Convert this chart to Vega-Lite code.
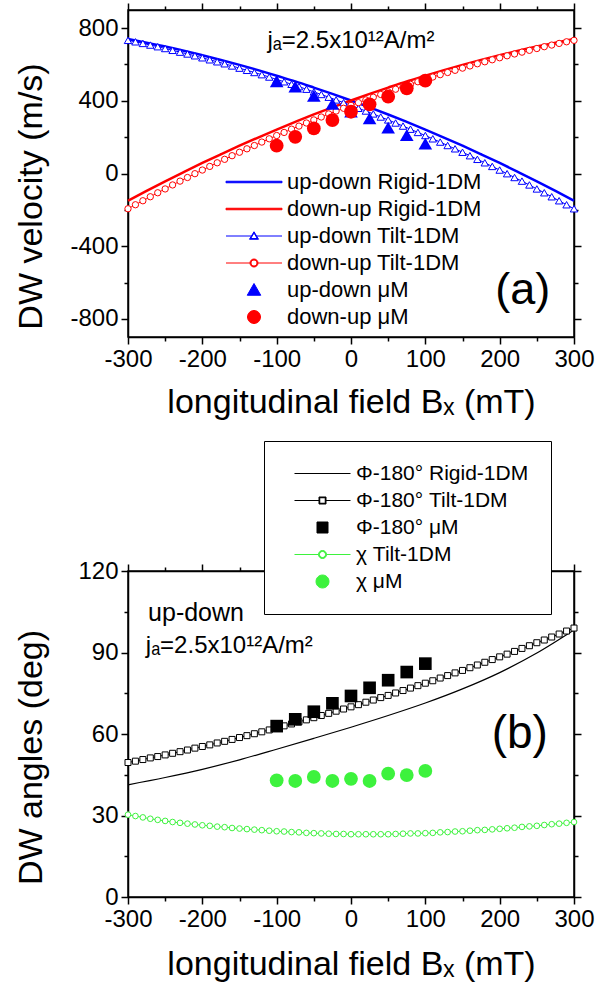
{
  "$schema": "https://vega.github.io/schema/vega-lite/v6.json",
  "background": "white",
  "padding": {"left": 13, "top": 1, "right": 5, "bottom": 5},
  "spacing": 19,
  "config": {
    "font": "Liberation Sans",
    "view": {"stroke": "black", "strokeWidth": 1.5},
    "axis": {
      "labelFont": "Liberation Sans", "labelFontSize": 24, "labelColor": "black",
      "titleFont": "Liberation Sans", "titleFontSize": 34, "titleFontWeight": "normal", "titleColor": "black",
      "domainColor": "black", "domainWidth": 1.5, "tickColor": "black", "tickWidth": 1.5,
      "grid": false, "labelFlush": false, "labelOverlap": false
    }
  },
  "resolve": {"scale": {"color": "independent"}, "legend": {"color": "independent"}},
  "datasets": {
    "velocity": [
      {"B": -300, "v": 740, "series": "up-down Rigid-1DM"}, {"B": -275, "v": 720, "series": "up-down Rigid-1DM"},
      {"B": -250, "v": 699, "series": "up-down Rigid-1DM"}, {"B": -225, "v": 676, "series": "up-down Rigid-1DM"},
      {"B": -200, "v": 651, "series": "up-down Rigid-1DM"}, {"B": -175, "v": 625, "series": "up-down Rigid-1DM"},
      {"B": -150, "v": 598, "series": "up-down Rigid-1DM"}, {"B": -125, "v": 569, "series": "up-down Rigid-1DM"},
      {"B": -100, "v": 538, "series": "up-down Rigid-1DM"}, {"B": -75, "v": 507, "series": "up-down Rigid-1DM"},
      {"B": -50, "v": 473, "series": "up-down Rigid-1DM"}, {"B": -25, "v": 438, "series": "up-down Rigid-1DM"},
      {"B": 0, "v": 402, "series": "up-down Rigid-1DM"}, {"B": 25, "v": 364, "series": "up-down Rigid-1DM"},
      {"B": 50, "v": 325, "series": "up-down Rigid-1DM"}, {"B": 75, "v": 284, "series": "up-down Rigid-1DM"},
      {"B": 100, "v": 242, "series": "up-down Rigid-1DM"}, {"B": 125, "v": 198, "series": "up-down Rigid-1DM"},
      {"B": 150, "v": 153, "series": "up-down Rigid-1DM"}, {"B": 175, "v": 106, "series": "up-down Rigid-1DM"},
      {"B": 200, "v": 58, "series": "up-down Rigid-1DM"}, {"B": 225, "v": 8, "series": "up-down Rigid-1DM"},
      {"B": 250, "v": -43, "series": "up-down Rigid-1DM"}, {"B": 275, "v": -96, "series": "up-down Rigid-1DM"},
      {"B": 300, "v": -150, "series": "up-down Rigid-1DM"},

      {"B": -300, "v": -150, "series": "down-up Rigid-1DM"}, {"B": -275, "v": -96, "series": "down-up Rigid-1DM"},
      {"B": -250, "v": -43, "series": "down-up Rigid-1DM"}, {"B": -225, "v": 8, "series": "down-up Rigid-1DM"},
      {"B": -200, "v": 58, "series": "down-up Rigid-1DM"}, {"B": -175, "v": 106, "series": "down-up Rigid-1DM"},
      {"B": -150, "v": 153, "series": "down-up Rigid-1DM"}, {"B": -125, "v": 198, "series": "down-up Rigid-1DM"},
      {"B": -100, "v": 242, "series": "down-up Rigid-1DM"}, {"B": -75, "v": 284, "series": "down-up Rigid-1DM"},
      {"B": -50, "v": 325, "series": "down-up Rigid-1DM"}, {"B": -25, "v": 364, "series": "down-up Rigid-1DM"},
      {"B": 0, "v": 402, "series": "down-up Rigid-1DM"}, {"B": 25, "v": 438, "series": "down-up Rigid-1DM"},
      {"B": 50, "v": 473, "series": "down-up Rigid-1DM"}, {"B": 75, "v": 507, "series": "down-up Rigid-1DM"},
      {"B": 100, "v": 538, "series": "down-up Rigid-1DM"}, {"B": 125, "v": 569, "series": "down-up Rigid-1DM"},
      {"B": 150, "v": 598, "series": "down-up Rigid-1DM"}, {"B": 175, "v": 625, "series": "down-up Rigid-1DM"},
      {"B": 200, "v": 651, "series": "down-up Rigid-1DM"}, {"B": 225, "v": 676, "series": "down-up Rigid-1DM"},
      {"B": 250, "v": 699, "series": "down-up Rigid-1DM"}, {"B": 275, "v": 720, "series": "down-up Rigid-1DM"},
      {"B": 300, "v": 740, "series": "down-up Rigid-1DM"},

      {"B": -300, "v": 733, "series": "up-down Tilt-1DM"}, {"B": -290, "v": 725, "series": "up-down Tilt-1DM"},
      {"B": -280, "v": 716, "series": "up-down Tilt-1DM"}, {"B": -270, "v": 707, "series": "up-down Tilt-1DM"},
      {"B": -260, "v": 698, "series": "up-down Tilt-1DM"}, {"B": -250, "v": 688, "series": "up-down Tilt-1DM"},
      {"B": -240, "v": 678, "series": "up-down Tilt-1DM"}, {"B": -230, "v": 668, "series": "up-down Tilt-1DM"},
      {"B": -220, "v": 658, "series": "up-down Tilt-1DM"}, {"B": -210, "v": 648, "series": "up-down Tilt-1DM"},
      {"B": -200, "v": 637, "series": "up-down Tilt-1DM"}, {"B": -190, "v": 626, "series": "up-down Tilt-1DM"},
      {"B": -180, "v": 615, "series": "up-down Tilt-1DM"}, {"B": -170, "v": 604, "series": "up-down Tilt-1DM"},
      {"B": -160, "v": 592, "series": "up-down Tilt-1DM"}, {"B": -150, "v": 580, "series": "up-down Tilt-1DM"},
      {"B": -140, "v": 568, "series": "up-down Tilt-1DM"}, {"B": -130, "v": 556, "series": "up-down Tilt-1DM"},
      {"B": -120, "v": 544, "series": "up-down Tilt-1DM"}, {"B": -110, "v": 531, "series": "up-down Tilt-1DM"},
      {"B": -100, "v": 518, "series": "up-down Tilt-1DM"}, {"B": -90, "v": 505, "series": "up-down Tilt-1DM"},
      {"B": -80, "v": 491, "series": "up-down Tilt-1DM"}, {"B": -70, "v": 478, "series": "up-down Tilt-1DM"},
      {"B": -60, "v": 464, "series": "up-down Tilt-1DM"}, {"B": -50, "v": 449, "series": "up-down Tilt-1DM"},
      {"B": -40, "v": 435, "series": "up-down Tilt-1DM"}, {"B": -30, "v": 420, "series": "up-down Tilt-1DM"},
      {"B": -20, "v": 405, "series": "up-down Tilt-1DM"}, {"B": -10, "v": 390, "series": "up-down Tilt-1DM"},
      {"B": 0, "v": 375, "series": "up-down Tilt-1DM"}, {"B": 10, "v": 359, "series": "up-down Tilt-1DM"},
      {"B": 20, "v": 344, "series": "up-down Tilt-1DM"}, {"B": 30, "v": 328, "series": "up-down Tilt-1DM"},
      {"B": 40, "v": 311, "series": "up-down Tilt-1DM"}, {"B": 50, "v": 295, "series": "up-down Tilt-1DM"},
      {"B": 60, "v": 278, "series": "up-down Tilt-1DM"}, {"B": 70, "v": 261, "series": "up-down Tilt-1DM"},
      {"B": 80, "v": 244, "series": "up-down Tilt-1DM"}, {"B": 90, "v": 226, "series": "up-down Tilt-1DM"},
      {"B": 100, "v": 209, "series": "up-down Tilt-1DM"}, {"B": 110, "v": 191, "series": "up-down Tilt-1DM"},
      {"B": 120, "v": 173, "series": "up-down Tilt-1DM"}, {"B": 130, "v": 154, "series": "up-down Tilt-1DM"},
      {"B": 140, "v": 136, "series": "up-down Tilt-1DM"}, {"B": 150, "v": 117, "series": "up-down Tilt-1DM"},
      {"B": 160, "v": 98, "series": "up-down Tilt-1DM"}, {"B": 170, "v": 78, "series": "up-down Tilt-1DM"},
      {"B": 180, "v": 59, "series": "up-down Tilt-1DM"}, {"B": 190, "v": 39, "series": "up-down Tilt-1DM"},
      {"B": 200, "v": 19, "series": "up-down Tilt-1DM"}, {"B": 210, "v": -1, "series": "up-down Tilt-1DM"},
      {"B": 220, "v": -22, "series": "up-down Tilt-1DM"}, {"B": 230, "v": -42, "series": "up-down Tilt-1DM"},
      {"B": 240, "v": -63, "series": "up-down Tilt-1DM"}, {"B": 250, "v": -85, "series": "up-down Tilt-1DM"},
      {"B": 260, "v": -106, "series": "up-down Tilt-1DM"}, {"B": 270, "v": -128, "series": "up-down Tilt-1DM"},
      {"B": 280, "v": -150, "series": "up-down Tilt-1DM"}, {"B": 290, "v": -172, "series": "up-down Tilt-1DM"},
      {"B": 300, "v": -194, "series": "up-down Tilt-1DM"},

      {"B": -300, "v": -194, "series": "down-up Tilt-1DM"}, {"B": -290, "v": -172, "series": "down-up Tilt-1DM"},
      {"B": -280, "v": -150, "series": "down-up Tilt-1DM"}, {"B": -270, "v": -128, "series": "down-up Tilt-1DM"},
      {"B": -260, "v": -106, "series": "down-up Tilt-1DM"}, {"B": -250, "v": -85, "series": "down-up Tilt-1DM"},
      {"B": -240, "v": -63, "series": "down-up Tilt-1DM"}, {"B": -230, "v": -42, "series": "down-up Tilt-1DM"},
      {"B": -220, "v": -22, "series": "down-up Tilt-1DM"}, {"B": -210, "v": -1, "series": "down-up Tilt-1DM"},
      {"B": -200, "v": 19, "series": "down-up Tilt-1DM"}, {"B": -190, "v": 39, "series": "down-up Tilt-1DM"},
      {"B": -180, "v": 59, "series": "down-up Tilt-1DM"}, {"B": -170, "v": 78, "series": "down-up Tilt-1DM"},
      {"B": -160, "v": 98, "series": "down-up Tilt-1DM"}, {"B": -150, "v": 117, "series": "down-up Tilt-1DM"},
      {"B": -140, "v": 136, "series": "down-up Tilt-1DM"}, {"B": -130, "v": 154, "series": "down-up Tilt-1DM"},
      {"B": -120, "v": 173, "series": "down-up Tilt-1DM"}, {"B": -110, "v": 191, "series": "down-up Tilt-1DM"},
      {"B": -100, "v": 209, "series": "down-up Tilt-1DM"}, {"B": -90, "v": 226, "series": "down-up Tilt-1DM"},
      {"B": -80, "v": 244, "series": "down-up Tilt-1DM"}, {"B": -70, "v": 261, "series": "down-up Tilt-1DM"},
      {"B": -60, "v": 278, "series": "down-up Tilt-1DM"}, {"B": -50, "v": 295, "series": "down-up Tilt-1DM"},
      {"B": -40, "v": 311, "series": "down-up Tilt-1DM"}, {"B": -30, "v": 328, "series": "down-up Tilt-1DM"},
      {"B": -20, "v": 344, "series": "down-up Tilt-1DM"}, {"B": -10, "v": 359, "series": "down-up Tilt-1DM"},
      {"B": 0, "v": 375, "series": "down-up Tilt-1DM"}, {"B": 10, "v": 390, "series": "down-up Tilt-1DM"},
      {"B": 20, "v": 405, "series": "down-up Tilt-1DM"}, {"B": 30, "v": 420, "series": "down-up Tilt-1DM"},
      {"B": 40, "v": 435, "series": "down-up Tilt-1DM"}, {"B": 50, "v": 449, "series": "down-up Tilt-1DM"},
      {"B": 60, "v": 464, "series": "down-up Tilt-1DM"}, {"B": 70, "v": 478, "series": "down-up Tilt-1DM"},
      {"B": 80, "v": 491, "series": "down-up Tilt-1DM"}, {"B": 90, "v": 505, "series": "down-up Tilt-1DM"},
      {"B": 100, "v": 518, "series": "down-up Tilt-1DM"}, {"B": 110, "v": 531, "series": "down-up Tilt-1DM"},
      {"B": 120, "v": 544, "series": "down-up Tilt-1DM"}, {"B": 130, "v": 556, "series": "down-up Tilt-1DM"},
      {"B": 140, "v": 568, "series": "down-up Tilt-1DM"}, {"B": 150, "v": 580, "series": "down-up Tilt-1DM"},
      {"B": 160, "v": 592, "series": "down-up Tilt-1DM"}, {"B": 170, "v": 604, "series": "down-up Tilt-1DM"},
      {"B": 180, "v": 615, "series": "down-up Tilt-1DM"}, {"B": 190, "v": 626, "series": "down-up Tilt-1DM"},
      {"B": 200, "v": 637, "series": "down-up Tilt-1DM"}, {"B": 210, "v": 648, "series": "down-up Tilt-1DM"},
      {"B": 220, "v": 658, "series": "down-up Tilt-1DM"}, {"B": 230, "v": 668, "series": "down-up Tilt-1DM"},
      {"B": 240, "v": 678, "series": "down-up Tilt-1DM"}, {"B": 250, "v": 688, "series": "down-up Tilt-1DM"},
      {"B": 260, "v": 698, "series": "down-up Tilt-1DM"}, {"B": 270, "v": 707, "series": "down-up Tilt-1DM"},
      {"B": 280, "v": 716, "series": "down-up Tilt-1DM"}, {"B": 290, "v": 725, "series": "down-up Tilt-1DM"},
      {"B": 300, "v": 733, "series": "down-up Tilt-1DM"},

      {"B": -100, "v": 507, "series": "up-down μM"}, {"B": -75, "v": 478, "series": "up-down μM"},
      {"B": -50, "v": 427, "series": "up-down μM"}, {"B": -25, "v": 383, "series": "up-down μM"},
      {"B": 0, "v": 340, "series": "up-down μM"}, {"B": 25, "v": 303, "series": "up-down μM"},
      {"B": 50, "v": 252, "series": "up-down μM"}, {"B": 75, "v": 211, "series": "up-down μM"},
      {"B": 100, "v": 165, "series": "up-down μM"},

      {"B": -100, "v": 153, "series": "down-up μM"}, {"B": -75, "v": 202, "series": "down-up μM"},
      {"B": -50, "v": 248, "series": "down-up μM"}, {"B": -25, "v": 294, "series": "down-up μM"},
      {"B": 0, "v": 340, "series": "down-up μM"}, {"B": 25, "v": 381, "series": "down-up μM"},
      {"B": 50, "v": 423, "series": "down-up μM"}, {"B": 75, "v": 469, "series": "down-up μM"},
      {"B": 100, "v": 511, "series": "down-up μM"}
    ],
    "angles": [
      {"B": -300, "deg": 41.3, "series": "Φ-180° Rigid-1DM"}, {"B": -250, "deg": 44.0, "series": "Φ-180° Rigid-1DM"},
      {"B": -200, "deg": 47.0, "series": "Φ-180° Rigid-1DM"}, {"B": -150, "deg": 50.5, "series": "Φ-180° Rigid-1DM"},
      {"B": -100, "deg": 54.4, "series": "Φ-180° Rigid-1DM"}, {"B": -50, "deg": 58.4, "series": "Φ-180° Rigid-1DM"},
      {"B": 0, "deg": 62.5, "series": "Φ-180° Rigid-1DM"}, {"B": 50, "deg": 66.8, "series": "Φ-180° Rigid-1DM"},
      {"B": 100, "deg": 71.4, "series": "Φ-180° Rigid-1DM"}, {"B": 150, "deg": 76.6, "series": "Φ-180° Rigid-1DM"},
      {"B": 200, "deg": 82.6, "series": "Φ-180° Rigid-1DM"}, {"B": 250, "deg": 89.8, "series": "Φ-180° Rigid-1DM"},
      {"B": 300, "deg": 98.3, "series": "Φ-180° Rigid-1DM"},

      {"B": -300, "deg": 49.5, "series": "Φ-180° Tilt-1DM"}, {"B": -290, "deg": 50.0, "series": "Φ-180° Tilt-1DM"},
      {"B": -280, "deg": 50.6, "series": "Φ-180° Tilt-1DM"}, {"B": -270, "deg": 51.2, "series": "Φ-180° Tilt-1DM"},
      {"B": -260, "deg": 51.7, "series": "Φ-180° Tilt-1DM"}, {"B": -250, "deg": 52.3, "series": "Φ-180° Tilt-1DM"},
      {"B": -240, "deg": 52.9, "series": "Φ-180° Tilt-1DM"}, {"B": -230, "deg": 53.5, "series": "Φ-180° Tilt-1DM"},
      {"B": -220, "deg": 54.1, "series": "Φ-180° Tilt-1DM"}, {"B": -210, "deg": 54.8, "series": "Φ-180° Tilt-1DM"},
      {"B": -200, "deg": 55.4, "series": "Φ-180° Tilt-1DM"}, {"B": -190, "deg": 56.0, "series": "Φ-180° Tilt-1DM"},
      {"B": -180, "deg": 56.7, "series": "Φ-180° Tilt-1DM"}, {"B": -170, "deg": 57.3, "series": "Φ-180° Tilt-1DM"},
      {"B": -160, "deg": 58.0, "series": "Φ-180° Tilt-1DM"}, {"B": -150, "deg": 58.7, "series": "Φ-180° Tilt-1DM"},
      {"B": -140, "deg": 59.4, "series": "Φ-180° Tilt-1DM"}, {"B": -130, "deg": 60.1, "series": "Φ-180° Tilt-1DM"},
      {"B": -120, "deg": 60.8, "series": "Φ-180° Tilt-1DM"}, {"B": -110, "deg": 61.5, "series": "Φ-180° Tilt-1DM"},
      {"B": -100, "deg": 62.2, "series": "Φ-180° Tilt-1DM"}, {"B": -90, "deg": 63.0, "series": "Φ-180° Tilt-1DM"},
      {"B": -80, "deg": 63.7, "series": "Φ-180° Tilt-1DM"}, {"B": -70, "deg": 64.5, "series": "Φ-180° Tilt-1DM"},
      {"B": -60, "deg": 65.2, "series": "Φ-180° Tilt-1DM"}, {"B": -50, "deg": 66.0, "series": "Φ-180° Tilt-1DM"},
      {"B": -40, "deg": 66.8, "series": "Φ-180° Tilt-1DM"}, {"B": -30, "deg": 67.6, "series": "Φ-180° Tilt-1DM"},
      {"B": -20, "deg": 68.4, "series": "Φ-180° Tilt-1DM"}, {"B": -10, "deg": 69.2, "series": "Φ-180° Tilt-1DM"},
      {"B": 0, "deg": 70.0, "series": "Φ-180° Tilt-1DM"}, {"B": 10, "deg": 70.8, "series": "Φ-180° Tilt-1DM"},
      {"B": 20, "deg": 71.7, "series": "Φ-180° Tilt-1DM"}, {"B": 30, "deg": 72.5, "series": "Φ-180° Tilt-1DM"},
      {"B": 40, "deg": 73.4, "series": "Φ-180° Tilt-1DM"}, {"B": 50, "deg": 74.2, "series": "Φ-180° Tilt-1DM"},
      {"B": 60, "deg": 75.1, "series": "Φ-180° Tilt-1DM"}, {"B": 70, "deg": 76.0, "series": "Φ-180° Tilt-1DM"},
      {"B": 80, "deg": 76.9, "series": "Φ-180° Tilt-1DM"}, {"B": 90, "deg": 77.8, "series": "Φ-180° Tilt-1DM"},
      {"B": 100, "deg": 78.7, "series": "Φ-180° Tilt-1DM"}, {"B": 110, "deg": 79.6, "series": "Φ-180° Tilt-1DM"},
      {"B": 120, "deg": 80.6, "series": "Φ-180° Tilt-1DM"}, {"B": 130, "deg": 81.5, "series": "Φ-180° Tilt-1DM"},
      {"B": 140, "deg": 82.5, "series": "Φ-180° Tilt-1DM"}, {"B": 150, "deg": 83.4, "series": "Φ-180° Tilt-1DM"},
      {"B": 160, "deg": 84.4, "series": "Φ-180° Tilt-1DM"}, {"B": 170, "deg": 85.4, "series": "Φ-180° Tilt-1DM"},
      {"B": 180, "deg": 86.4, "series": "Φ-180° Tilt-1DM"}, {"B": 190, "deg": 87.4, "series": "Φ-180° Tilt-1DM"},
      {"B": 200, "deg": 88.4, "series": "Φ-180° Tilt-1DM"}, {"B": 210, "deg": 89.4, "series": "Φ-180° Tilt-1DM"},
      {"B": 220, "deg": 90.4, "series": "Φ-180° Tilt-1DM"}, {"B": 230, "deg": 91.5, "series": "Φ-180° Tilt-1DM"},
      {"B": 240, "deg": 92.5, "series": "Φ-180° Tilt-1DM"}, {"B": 250, "deg": 93.6, "series": "Φ-180° Tilt-1DM"},
      {"B": 260, "deg": 94.6, "series": "Φ-180° Tilt-1DM"}, {"B": 270, "deg": 95.7, "series": "Φ-180° Tilt-1DM"},
      {"B": 280, "deg": 96.8, "series": "Φ-180° Tilt-1DM"}, {"B": 290, "deg": 97.9, "series": "Φ-180° Tilt-1DM"},
      {"B": 300, "deg": 99.0, "series": "Φ-180° Tilt-1DM"},

      {"B": -100, "deg": 62.9, "series": "Φ-180° μM"}, {"B": -75, "deg": 65.4, "series": "Φ-180° μM"},
      {"B": -50, "deg": 68.2, "series": "Φ-180° μM"}, {"B": -25, "deg": 71.3, "series": "Φ-180° μM"},
      {"B": 0, "deg": 74.0, "series": "Φ-180° μM"}, {"B": 25, "deg": 77.0, "series": "Φ-180° μM"},
      {"B": 50, "deg": 79.8, "series": "Φ-180° μM"}, {"B": 75, "deg": 82.8, "series": "Φ-180° μM"},
      {"B": 100, "deg": 85.9, "series": "Φ-180° μM"},

      {"B": -300, "deg": 30.3, "series": "χ Tilt-1DM"}, {"B": -290, "deg": 29.8, "series": "χ Tilt-1DM"},
      {"B": -280, "deg": 29.3, "series": "χ Tilt-1DM"}, {"B": -270, "deg": 28.8, "series": "χ Tilt-1DM"},
      {"B": -260, "deg": 28.4, "series": "χ Tilt-1DM"}, {"B": -250, "deg": 28.0, "series": "χ Tilt-1DM"},
      {"B": -240, "deg": 27.6, "series": "χ Tilt-1DM"}, {"B": -230, "deg": 27.3, "series": "χ Tilt-1DM"},
      {"B": -220, "deg": 27.0, "series": "χ Tilt-1DM"}, {"B": -210, "deg": 26.7, "series": "χ Tilt-1DM"},
      {"B": -200, "deg": 26.4, "series": "χ Tilt-1DM"}, {"B": -190, "deg": 26.2, "series": "χ Tilt-1DM"},
      {"B": -180, "deg": 25.9, "series": "χ Tilt-1DM"}, {"B": -170, "deg": 25.7, "series": "χ Tilt-1DM"},
      {"B": -160, "deg": 25.4, "series": "χ Tilt-1DM"}, {"B": -150, "deg": 25.2, "series": "χ Tilt-1DM"},
      {"B": -140, "deg": 25.0, "series": "χ Tilt-1DM"}, {"B": -130, "deg": 24.8, "series": "χ Tilt-1DM"},
      {"B": -120, "deg": 24.6, "series": "χ Tilt-1DM"}, {"B": -110, "deg": 24.4, "series": "χ Tilt-1DM"},
      {"B": -100, "deg": 24.2, "series": "χ Tilt-1DM"}, {"B": -90, "deg": 24.1, "series": "χ Tilt-1DM"},
      {"B": -80, "deg": 23.9, "series": "χ Tilt-1DM"}, {"B": -70, "deg": 23.8, "series": "χ Tilt-1DM"},
      {"B": -60, "deg": 23.6, "series": "χ Tilt-1DM"}, {"B": -50, "deg": 23.5, "series": "χ Tilt-1DM"},
      {"B": -40, "deg": 23.4, "series": "χ Tilt-1DM"}, {"B": -30, "deg": 23.3, "series": "χ Tilt-1DM"},
      {"B": -20, "deg": 23.2, "series": "χ Tilt-1DM"}, {"B": -10, "deg": 23.2, "series": "χ Tilt-1DM"},
      {"B": 0, "deg": 23.1, "series": "χ Tilt-1DM"}, {"B": 10, "deg": 23.1, "series": "χ Tilt-1DM"},
      {"B": 20, "deg": 23.1, "series": "χ Tilt-1DM"}, {"B": 30, "deg": 23.1, "series": "χ Tilt-1DM"},
      {"B": 40, "deg": 23.1, "series": "χ Tilt-1DM"}, {"B": 50, "deg": 23.1, "series": "χ Tilt-1DM"},
      {"B": 60, "deg": 23.2, "series": "χ Tilt-1DM"}, {"B": 70, "deg": 23.3, "series": "χ Tilt-1DM"},
      {"B": 80, "deg": 23.4, "series": "χ Tilt-1DM"}, {"B": 90, "deg": 23.4, "series": "χ Tilt-1DM"},
      {"B": 100, "deg": 23.5, "series": "χ Tilt-1DM"}, {"B": 110, "deg": 23.6, "series": "χ Tilt-1DM"},
      {"B": 120, "deg": 23.8, "series": "χ Tilt-1DM"}, {"B": 130, "deg": 23.9, "series": "χ Tilt-1DM"},
      {"B": 140, "deg": 24.1, "series": "χ Tilt-1DM"}, {"B": 150, "deg": 24.2, "series": "χ Tilt-1DM"},
      {"B": 160, "deg": 24.4, "series": "χ Tilt-1DM"}, {"B": 170, "deg": 24.6, "series": "χ Tilt-1DM"},
      {"B": 180, "deg": 24.7, "series": "χ Tilt-1DM"}, {"B": 190, "deg": 24.9, "series": "χ Tilt-1DM"},
      {"B": 200, "deg": 25.1, "series": "χ Tilt-1DM"}, {"B": 210, "deg": 25.3, "series": "χ Tilt-1DM"},
      {"B": 220, "deg": 25.5, "series": "χ Tilt-1DM"}, {"B": 230, "deg": 25.8, "series": "χ Tilt-1DM"},
      {"B": 240, "deg": 26.0, "series": "χ Tilt-1DM"}, {"B": 250, "deg": 26.2, "series": "χ Tilt-1DM"},
      {"B": 260, "deg": 26.5, "series": "χ Tilt-1DM"}, {"B": 270, "deg": 26.8, "series": "χ Tilt-1DM"},
      {"B": 280, "deg": 27.0, "series": "χ Tilt-1DM"}, {"B": 290, "deg": 27.3, "series": "χ Tilt-1DM"},
      {"B": 300, "deg": 27.6, "series": "χ Tilt-1DM"},

      {"B": -100, "deg": 42.9, "series": "χ μM"}, {"B": -75, "deg": 42.7, "series": "χ μM"},
      {"B": -50, "deg": 44.2, "series": "χ μM"}, {"B": -25, "deg": 42.7, "series": "χ μM"},
      {"B": 0, "deg": 43.5, "series": "χ μM"}, {"B": 25, "deg": 42.7, "series": "χ μM"},
      {"B": 50, "deg": 45.4, "series": "χ μM"}, {"B": 75, "deg": 44.9, "series": "χ μM"},
      {"B": 100, "deg": 46.4, "series": "χ μM"}
    ],
    "labels": [{"note": "annotation"}]
  },
  "vconcat": [
    {
      "width": 446,
      "height": 327,
      "resolve": {"axis": {"x": "independent", "y": "independent"}},
      "layer": [
        {
          "data": {"name": "velocity"},
          "transform": [{"filter": {"field": "series", "oneOf": ["up-down Rigid-1DM", "down-up Rigid-1DM"]}}],
          "mark": {"type": "line", "strokeWidth": 2.5, "interpolate": "monotone"},
          "encoding": {
            "x": {"field": "B", "type": "quantitative", "scale": {"domain": [-300, 300], "nice": false, "zero": false},
                  "axis": {"orient": "bottom", "values": [-300, -200, -100, 0, 100, 200, 300], "tickSize": 7, "labelPadding": 3,
                           "labelExpr": "'' + datum.value", "title": "longitudinal field Bₓ (mT)", "titleBaseline": "alphabetic", "titleY": 75}},
            "y": {"field": "v", "type": "quantitative", "scale": {"domain": [-900, 900], "nice": false, "zero": false},
                  "axis": {"orient": "left", "values": [-800, -400, 0, 400, 800], "tickSize": 7, "labelPadding": 3,
                           "labelExpr": "'' + datum.value", "title": "DW velocity (m/s)", "titleX": -97, "titleY": 186,
                           "titleBaseline": "middle", "titleAlign": "center", "titleAngle": 270}},
            "color": {
              "field": "series", "type": "nominal",
              "scale": {
                "domain": ["up-down Rigid-1DM", "down-up Rigid-1DM", "up-down Tilt-1DM", "down-up Tilt-1DM", "up-down μM", "down-up μM"],
                "range": ["#0000ff", "#ff0000", "#0000ff", "#ff0000", "#0000ff", "#ff0000"]
              },
              "legend": {
                "orient": "none", "legendX": 98, "legendY": 161, "title": null, "padding": 0, "rowPadding": 5,
                "labelFont": "Liberation Sans", "labelFontSize": 22, "labelColor": "black", "labelLimit": 400,
                "symbolSize": 100, "symbolOffset": 17, "labelOffset": 22, "symbolStrokeWidth": 1, "symbolOpacity": 1,
                "symbolType": {"expr": "indexof(datum.value, 'Rigid') >= 0 ? 'M-5.6,-0.15L5.6,-0.15L5.6,0.15L-5.6,0.15Z' : datum.value == 'up-down Tilt-1DM' ? 'M-5.6,0L-0.45,0M0.45,0L5.6,0M0,-0.85L0.9,0.65L-0.9,0.65ZM0,-0.6L-0.66,0.5L0.66,0.5Z' : datum.value == 'down-up Tilt-1DM' ? 'M-5.6,0L-0.8,0M0.8,0L5.6,0M0.8,0A0.8,0.8,0,1,1,-0.8,0A0.8,0.8,0,1,1,0.8,0ZM0.6,0A0.6,0.6,0,1,0,-0.6,0A0.6,0.6,0,1,0,0.6,0Z' : datum.value == 'up-down μM' ? 'M0,-1.3L1.35,1.05L-1.35,1.05Z' : 'M1.3,0A1.3,1.3,0,1,1,-1.3,0A1.3,1.3,0,1,1,1.3,0'"}
              }
            }
          }
        },
        {
          "data": {"name": "velocity"},
          "transform": [{"filter": {"field": "series", "oneOf": ["up-down Tilt-1DM", "down-up Tilt-1DM"]}}],
          "mark": {"type": "line", "strokeWidth": 1},
          "encoding": {
            "x": {"field": "B", "type": "quantitative",
                  "axis": {"orient": "top", "values": [-300, -200, -100, 0, 100, 200, 300], "tickSize": 7, "labels": false, "title": null}},
            "y": {"field": "v", "type": "quantitative",
                  "axis": {"orient": "right", "values": [-800, -400, 0, 400, 800], "tickSize": 7, "labels": false, "title": null}},
            "color": {"field": "series", "type": "nominal", "legend": null}
          }
        },
        {
          "data": {"name": "velocity"},
          "transform": [{"filter": {"field": "series", "equal": "up-down Tilt-1DM"}}],
          "mark": {"type": "point", "shape": "triangle-up", "filled": false, "fill": "white", "size": 55, "strokeWidth": 1, "opacity": 1},
          "encoding": {
            "x": {"field": "B", "type": "quantitative",
                  "axis": {"orient": "bottom", "values": [-250, -150, -50, 50, 150, 250], "tickSize": 4, "labels": false, "domain": false, "title": null}},
            "y": {"field": "v", "type": "quantitative",
                  "axis": {"orient": "left", "values": [-600, -200, 200, 600], "tickSize": 4, "labels": false, "domain": false, "title": null}},
            "color": {"field": "series", "type": "nominal", "legend": null}
          }
        },
        {
          "data": {"name": "velocity"},
          "transform": [{"filter": {"field": "series", "equal": "down-up Tilt-1DM"}}],
          "mark": {"type": "point", "shape": "circle", "filled": false, "fill": "white", "size": 40, "strokeWidth": 1, "opacity": 1},
          "encoding": {
            "x": {"field": "B", "type": "quantitative",
                  "axis": {"orient": "top", "values": [-250, -150, -50, 50, 150, 250], "tickSize": 4, "labels": false, "domain": false, "title": null}},
            "y": {"field": "v", "type": "quantitative",
                  "axis": {"orient": "right", "values": [-600, -200, 200, 600], "tickSize": 4, "labels": false, "domain": false, "title": null}},
            "color": {"field": "series", "type": "nominal", "legend": null}
          }
        },
        {
          "data": {"name": "velocity"},
          "transform": [{"filter": {"field": "series", "equal": "up-down μM"}}],
          "mark": {"type": "point", "shape": "triangle-up", "filled": true, "size": 185, "opacity": 1},
          "encoding": {
            "x": {"field": "B", "type": "quantitative", "axis": null},
            "y": {"field": "v", "type": "quantitative", "axis": null},
            "color": {"field": "series", "type": "nominal", "legend": null}
          }
        },
        {
          "data": {"name": "velocity"},
          "transform": [{"filter": {"field": "series", "equal": "down-up μM"}}],
          "mark": {"type": "point", "shape": "circle", "filled": true, "size": 190, "opacity": 1},
          "encoding": {
            "x": {"field": "B", "type": "quantitative", "axis": null},
            "y": {"field": "v", "type": "quantitative", "axis": null},
            "color": {"field": "series", "type": "nominal", "legend": null}
          }
        },
        {
          "data": {"name": "labels"},
          "mark": {"type": "text", "text": "jₐ=2.5x10¹²A/m²", "font": "Liberation Sans", "fontSize": 24, "align": "center", "baseline": "middle", "color": "black"},
          "encoding": {
            "x": {"datum": 0, "type": "quantitative", "axis": null},
            "y": {"datum": 732, "type": "quantitative", "axis": null}
          }
        },
        {
          "data": {"name": "labels"},
          "mark": {"type": "text", "text": "(a)", "font": "Liberation Sans", "fontSize": 45, "align": "center", "baseline": "middle", "color": "black"},
          "encoding": {
            "x": {"datum": 231, "type": "quantitative", "axis": null},
            "y": {"datum": -641, "type": "quantitative", "axis": null}
          }
        }
      ]
    },
    {
      "width": 446,
      "height": 326,
      "resolve": {"axis": {"x": "independent", "y": "independent"}},
      "layer": [
        {
          "data": {"name": "angles"},
          "transform": [{"filter": {"field": "series", "equal": "Φ-180° Rigid-1DM"}}],
          "mark": {"type": "line", "strokeWidth": 1.2, "interpolate": "monotone"},
          "encoding": {
            "x": {"field": "B", "type": "quantitative", "scale": {"domain": [-300, 300], "nice": false, "zero": false},
                  "axis": {"orient": "bottom", "values": [-300, -200, -100, 0, 100, 200, 300], "tickSize": 7, "labelPadding": 3,
                           "labelExpr": "'' + datum.value", "title": "longitudinal field Bₓ (mT)", "titleBaseline": "alphabetic", "titleY": 77}},
            "y": {"field": "deg", "type": "quantitative", "scale": {"domain": [0, 120], "nice": false},
                  "axis": {"orient": "left", "values": [0, 30, 60, 90, 120], "tickSize": 7, "labelPadding": 3,
                           "labelExpr": "'' + datum.value", "title": "DW angles (deg)", "titleX": -97, "titleY": 186,
                           "titleBaseline": "middle", "titleAlign": "center", "titleAngle": 270}},
            "color": {
              "field": "series", "type": "nominal",
              "scale": {
                "domain": ["Φ-180° Rigid-1DM", "Φ-180° Tilt-1DM", "Φ-180° μM", "χ Tilt-1DM", "χ μM"],
                "range": ["#000000", "#000000", "#000000", "#3df23d", "#3df23d"]
              },
              "legend": {
                "orient": "none", "legendX": 136, "legendY": -130, "title": null, "padding": 22, "rowPadding": 5,
                "strokeColor": "black", "fillColor": "white",
                "labelFont": "Liberation Sans", "labelFontSize": 21, "labelColor": "black", "labelLimit": 400,
                "symbolSize": 100, "symbolOffset": 26, "labelOffset": 23, "symbolStrokeWidth": 1, "symbolOpacity": 1,
                "symbolType": {"expr": "indexof(datum.value, 'Rigid') >= 0 ? 'M-5.6,0L5.6,0' : datum.value == 'Φ-180° Tilt-1DM' ? 'M-5.6,0L-0.7,0M0.7,0L5.6,0M-0.7,-0.7L0.7,-0.7L0.7,0.7L-0.7,0.7ZM-0.55,-0.55L-0.55,0.55L0.55,0.55L0.55,-0.55Z' : datum.value == 'Φ-180° μM' ? 'M-1.1,-1.1L1.1,-1.1L1.1,1.1L-1.1,1.1Z' : datum.value == 'χ Tilt-1DM' ? 'M-5.6,0L-0.8,0M0.8,0L5.6,0M0.8,0A0.8,0.8,0,1,1,-0.8,0A0.8,0.8,0,1,1,0.8,0ZM0.6,0A0.6,0.6,0,1,0,-0.6,0A0.6,0.6,0,1,0,0.6,0Z' : 'M1.3,0A1.3,1.3,0,1,1,-1.3,0A1.3,1.3,0,1,1,1.3,0'"}
              }
            }
          }
        },
        {
          "data": {"name": "angles"},
          "transform": [{"filter": {"field": "series", "equal": "Φ-180° Tilt-1DM"}}],
          "mark": {"type": "line", "strokeWidth": 1},
          "encoding": {
            "x": {"field": "B", "type": "quantitative",
                  "axis": {"orient": "top", "values": [-300, -200, -100, 0, 100, 200, 300], "tickSize": 7, "labels": false, "title": null}},
            "y": {"field": "deg", "type": "quantitative",
                  "axis": {"orient": "right", "values": [0, 30, 60, 90, 120], "tickSize": 7, "labels": false, "title": null}},
            "color": {"field": "series", "type": "nominal", "legend": null}
          }
        },
        {
          "data": {"name": "angles"},
          "transform": [{"filter": {"field": "series", "equal": "Φ-180° Tilt-1DM"}}],
          "mark": {"type": "point", "shape": "square", "filled": false, "fill": "white", "size": 36, "strokeWidth": 1, "opacity": 1},
          "encoding": {
            "x": {"field": "B", "type": "quantitative",
                  "axis": {"orient": "bottom", "values": [-250, -150, -50, 50, 150, 250], "tickSize": 4, "labels": false, "domain": false, "title": null}},
            "y": {"field": "deg", "type": "quantitative",
                  "axis": {"orient": "left", "values": [15, 45, 75, 105], "tickSize": 4, "labels": false, "domain": false, "title": null}},
            "color": {"field": "series", "type": "nominal", "legend": null}
          }
        },
        {
          "data": {"name": "angles"},
          "transform": [{"filter": {"field": "series", "equal": "χ Tilt-1DM"}}],
          "mark": {"type": "line", "strokeWidth": 1},
          "encoding": {
            "x": {"field": "B", "type": "quantitative",
                  "axis": {"orient": "top", "values": [-250, -150, -50, 50, 150, 250], "tickSize": 4, "labels": false, "domain": false, "title": null}},
            "y": {"field": "deg", "type": "quantitative",
                  "axis": {"orient": "right", "values": [15, 45, 75, 105], "tickSize": 4, "labels": false, "domain": false, "title": null}},
            "color": {"field": "series", "type": "nominal", "legend": null}
          }
        },
        {
          "data": {"name": "angles"},
          "transform": [{"filter": {"field": "series", "equal": "χ Tilt-1DM"}}],
          "mark": {"type": "point", "shape": "circle", "filled": false, "fill": "white", "size": 32, "strokeWidth": 1, "opacity": 1},
          "encoding": {
            "x": {"field": "B", "type": "quantitative", "axis": null},
            "y": {"field": "deg", "type": "quantitative", "axis": null},
            "color": {"field": "series", "type": "nominal", "legend": null}
          }
        },
        {
          "data": {"name": "angles"},
          "transform": [{"filter": {"field": "series", "equal": "Φ-180° μM"}}],
          "mark": {"type": "point", "shape": "square", "filled": true, "size": 160, "opacity": 1},
          "encoding": {
            "x": {"field": "B", "type": "quantitative", "axis": null},
            "y": {"field": "deg", "type": "quantitative", "axis": null},
            "color": {"field": "series", "type": "nominal", "legend": null}
          }
        },
        {
          "data": {"name": "angles"},
          "transform": [{"filter": {"field": "series", "equal": "χ μM"}}],
          "mark": {"type": "point", "shape": "circle", "filled": true, "size": 190, "opacity": 1},
          "encoding": {
            "x": {"field": "B", "type": "quantitative", "axis": null},
            "y": {"field": "deg", "type": "quantitative", "axis": null},
            "color": {"field": "series", "type": "nominal", "legend": null}
          }
        },
        {
          "data": {"name": "labels"},
          "mark": {"type": "text", "text": "up-down", "font": "Liberation Sans", "fontSize": 25, "align": "left", "baseline": "middle", "color": "black"},
          "encoding": {
            "x": {"datum": -273, "type": "quantitative", "axis": null},
            "y": {"datum": 104.5, "type": "quantitative", "axis": null}
          }
        },
        {
          "data": {"name": "labels"},
          "mark": {"type": "text", "text": "jₐ=2.5x10¹²A/m²", "font": "Liberation Sans", "fontSize": 24, "align": "left", "baseline": "middle", "color": "black"},
          "encoding": {
            "x": {"datum": -276, "type": "quantitative", "axis": null},
            "y": {"datum": 92.4, "type": "quantitative", "axis": null}
          }
        },
        {
          "data": {"name": "labels"},
          "mark": {"type": "text", "text": "(b)", "font": "Liberation Sans", "fontSize": 46, "align": "center", "baseline": "middle", "color": "black"},
          "encoding": {
            "x": {"datum": 227, "type": "quantitative", "axis": null},
            "y": {"datum": 60, "type": "quantitative", "axis": null}
          }
        }
      ]
    }
  ]
}
